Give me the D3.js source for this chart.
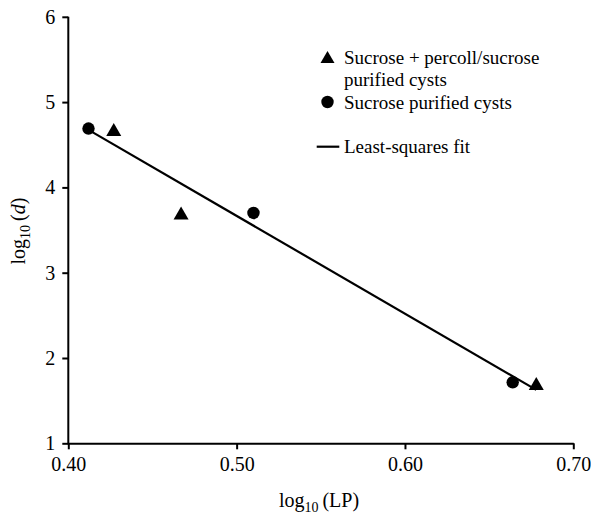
<!DOCTYPE html>
<html><head><meta charset="utf-8">
<script src="https://cdn.jsdelivr.net/npm/d3@7"></script>
<style>body{margin:0;background:#fff;}</style></head>
<body><svg id="c" width="591" height="514"></svg>
<script>
// Data
const triX = [0.427, 0.467, 0.678];
const triY = [4.68, 3.70, 1.70];
const cirX = [0.412, 0.510, 0.664];
const cirY = [4.69, 3.70, 1.715];
const xTicks = [0.40, 0.50, 0.60, 0.70];
const yTicks = [1, 2, 3, 4, 5, 6];
const legendLabels = ["Sucrose + percoll/sucrose", "purified cysts", "Sucrose purified cysts", "Least-squares fit"];

const FONT = "Liberation Serif";
const svg = d3.select("#c");
const x = d3.scaleLinear().domain([0.40, 0.70]).range([68.3, 573.3]);
const y = d3.scaleLinear().domain([1, 6]).range([443.3, 16.8]);

// Axes
const xAxis = d3.axisBottom(x).tickValues(xTicks).tickFormat(d3.format(".2f")).tickSizeInner(6).tickSizeOuter(0).tickPadding(8);
const yAxis = d3.axisLeft(y).tickValues(yTicks).tickFormat(d3.format("d")).tickSizeInner(6).tickSizeOuter(0).tickPadding(7);

const gx = svg.append("g").attr("transform", `translate(0,${y(1)})`).call(xAxis);
const gy = svg.append("g").attr("transform", `translate(${x(0.4)},0)`).call(yAxis);
[gx, gy].forEach(g => {
  g.attr("font-family", null);
  g.select(".domain").attr("stroke", "#000").attr("stroke-width", 2);
  g.selectAll(".tick line").attr("stroke", "#000").attr("stroke-width", 2);
  g.selectAll(".tick text").style("font-family", FONT).style("font-size", "20px").attr("fill", "#000");
});
gy.select(".domain").attr("d", `M0,${y(6)}V${y(1) + 1}`);

// Least-squares fit from all points
const allX = cirX.concat(triX), allY = cirY.concat(triY);
const mx = d3.mean(allX), my = d3.mean(allY);
const slope = d3.sum(allX.map((v, i) => (v - mx) * (allY[i] - my))) / d3.sum(allX.map(v => (v - mx) ** 2));
const fit = v => my + slope * (v - mx);
const x0 = d3.min(allX), x1 = d3.max(allX);
svg.append("line")
  .attr("x1", x(x0)).attr("y1", y(fit(x0)))
  .attr("x2", x(x1)).attr("y2", y(fit(x1)))
  .attr("stroke", "#000").attr("stroke-width", 2.2);

// Markers
const triPath = (w, h) => `M0,${-h / 2}L${w / 2},${h / 2}L${-w / 2},${h / 2}Z`;
svg.selectAll("path.tri").data(triX.map((v, i) => [v, triY[i]])).enter()
  .append("path").attr("class", "tri")
  .attr("d", triPath(15, 13))
  .attr("transform", d => `translate(${x(d[0])},${y(d[1])})`)
  .attr("fill", "#000");
svg.selectAll("circle.cir").data(cirX.map((v, i) => [v, cirY[i]])).enter()
  .append("circle").attr("class", "cir")
  .attr("cx", d => x(d[0])).attr("cy", d => y(d[1])).attr("r", 6.2)
  .attr("fill", "#000");

function txt(sel, size) { return sel.style("font-family", FONT).style("font-size", (size || 19) + "px").attr("fill", "#000"); }

// Axis titles
const xt = txt(svg.append("text"), 20).attr("x", 319).attr("y", 507).attr("text-anchor", "middle");
xt.append("tspan").text("log");
xt.append("tspan").style("font-size", "14px").attr("dy", 5).text("10");
xt.append("tspan").attr("dy", -5).text("\u2009(LP)");

const yt = txt(svg.append("text"), 20).attr("transform", "translate(25,231) rotate(-90)").attr("text-anchor", "middle");
yt.append("tspan").text("log");
yt.append("tspan").style("font-size", "14px").attr("dy", 5).text("10");
yt.append("tspan").attr("dy", -5).text("\u2009(");
yt.append("tspan").style("font-style", "italic").text("d");
yt.append("tspan").text(")");

// Legend
const lg = svg.append("g");
lg.append("path").attr("d", triPath(14, 12)).attr("transform", "translate(327.5,57)").attr("fill", "#000");
txt(lg.append("text")).attr("x", 344).attr("y", 63.5).text(legendLabels[0]);
txt(lg.append("text")).attr("x", 344).attr("y", 86).text(legendLabels[1]);
lg.append("circle").attr("cx", 327.5).attr("cy", 102).attr("r", 6.2).attr("fill", "#000");
txt(lg.append("text")).attr("x", 344).attr("y", 109).text(legendLabels[2]);
lg.append("line").attr("x1", 316.7).attr("x2", 339.3).attr("y1", 146.7).attr("y2", 146.7).attr("stroke", "#000").attr("stroke-width", 2.2);
txt(lg.append("text")).attr("x", 344).attr("y", 152.5).text(legendLabels[3]);
</script></body></html>
